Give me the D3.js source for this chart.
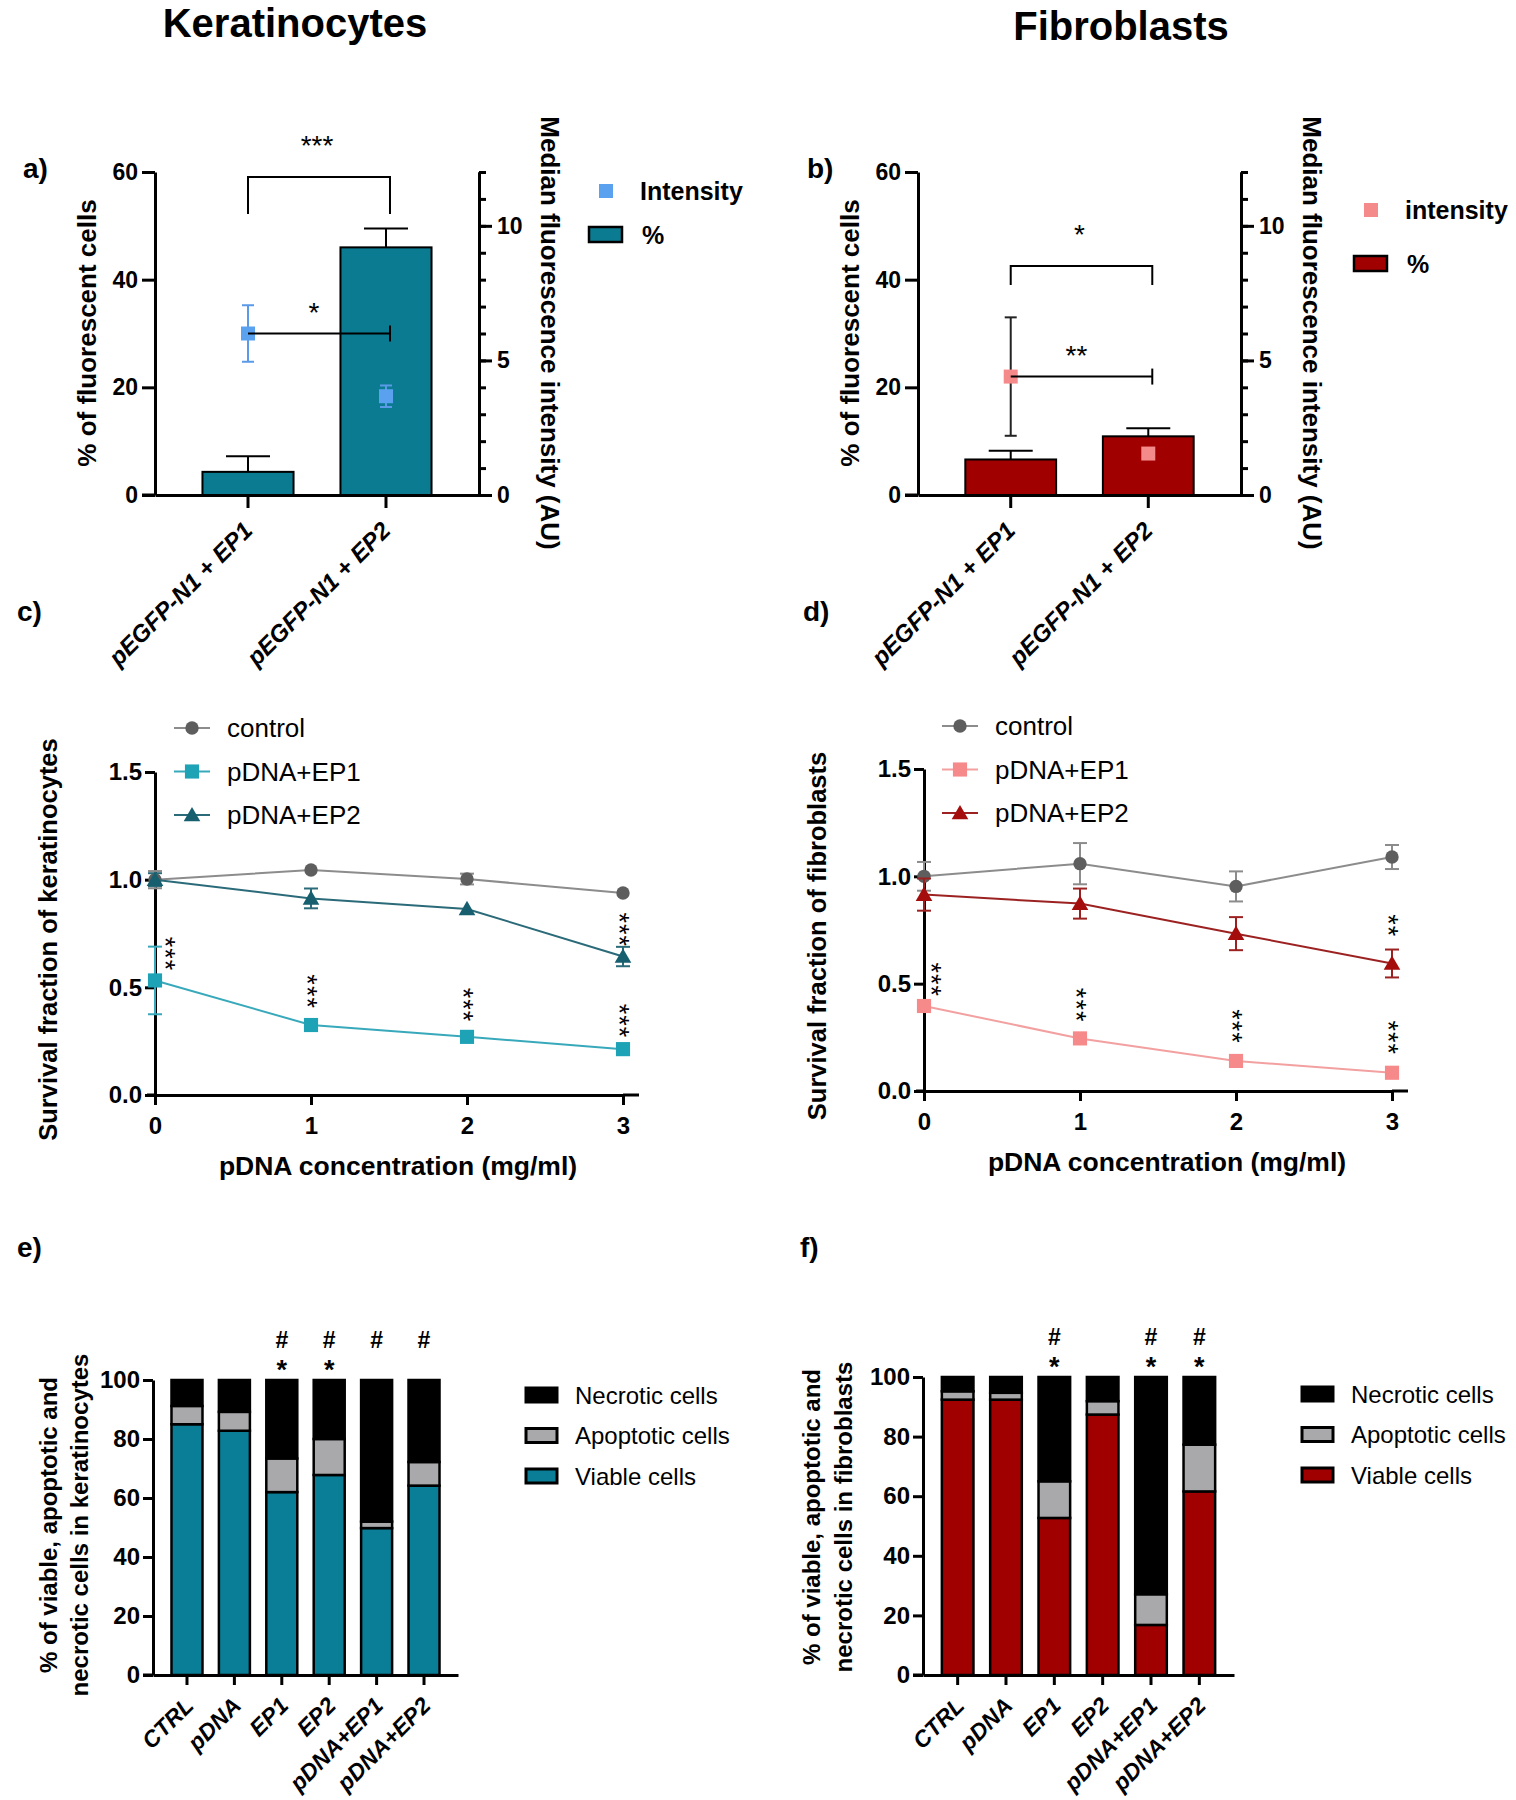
<!DOCTYPE html>
<html><head><meta charset="utf-8">
<script src="https://cdn.jsdelivr.net/npm/d3@7"></script>
<style>
body{margin:0;background:#fff}
text{font-family:"Liberation Sans",Arial,sans-serif}
</style></head><body>
<svg id="chart" width="1516" height="1800"></svg>
<script>
// ---------------- DATA ----------------
const barCats = ["pEGFP-N1 + EP1", "pEGFP-N1 + EP2"];
const pctTicks = [0, 20, 40, 60];
const intTicks = [0, 5, 10];
const intMinorTicks = [0,1,2,3,4,5,6,7,8,9,10,11,12];
const kerPct = [4.3, 46.0];
const kerPctSD = [2.9, 3.5];
const kerInt = [6.0, 3.67];
const kerIntSD = [1.05, 0.4];
const fibPct = [6.6, 10.9];
const fibPctSD = [1.6, 1.5];
const fibInt = [4.4, 1.54];
const fibIntSD = [2.2, 0];

const conc = [0, 1, 2, 3];
const survTicks = [0, 0.5, 1.0, 1.5];
const kerControl = [1.0, 1.045, 1.003, 0.938];
const kerControlSD = [0.04, 0.012, 0.025, 0.01];
const kerEP1 = [0.532, 0.325, 0.27, 0.213];
const kerEP1SD = [0.157, 0.01, 0.01, 0.01];
const kerEP2 = [1.0, 0.913, 0.864, 0.643];
const kerEP2SD = [0.03, 0.046, 0.01, 0.045];
const fibControl = [1.0, 1.059, 0.953, 1.09];
const fibControlSD = [0.067, 0.096, 0.07, 0.056];
const fibEP1 = [0.396, 0.245, 0.14, 0.085];
const fibEP1SD = [0.01, 0.01, 0.01, 0.01];
const fibEP2 = [0.915, 0.873, 0.733, 0.594];
const fibEP2SD = [0.075, 0.07, 0.077, 0.065];
const kerStars = [{x:0.09,y:0.655,t:"***"},{x:1,y:0.48,t:"***"},{x:2,y:0.418,t:"***"},{x:3,y:0.344,t:"***"},{x:3,y:0.767,t:"***"}];
const fibStars = [{x:0.07,y:0.518,t:"***"},{x:1,y:0.40,t:"***"},{x:2,y:0.30,t:"***"},{x:3,y:0.248,t:"***"},{x:3,y:0.77,t:"**"}];

const groups = ["CTRL", "pDNA", "EP1", "EP2", "pDNA+EP1", "pDNA+EP2"];
const stackTicks = [0, 20, 40, 60, 80, 100];
const kerViable    = [85.0, 82.8, 62.0, 67.8, 49.8, 64.2];
const kerApoptotic = [6.2, 6.4, 11.4, 12.2, 2.2, 8.0];
const kerNecrotic  = [8.8, 10.8, 26.6, 20.0, 48.0, 27.8];
const fibViable    = [92.4, 92.4, 52.7, 87.4, 16.8, 61.6];
const fibApoptotic = [2.8, 2.3, 12.3, 4.5, 10.3, 15.7];
const fibNecrotic  = [4.8, 5.3, 35.0, 8.1, 72.9, 22.7];
const kerMarks = [[], [], ["#", "*"], ["#", "*"], ["#"], ["#"]];
const fibMarks = [[], [], ["#", "*"], [], ["#", "*"], ["#", "*"]];

// ---------------- HELPERS ----------------
const svg = d3.select("#chart");
svg.append("rect").attr("width",1516).attr("height",1800).attr("fill","#fff");
const FONT = '"Liberation Sans", Arial, sans-serif';

function txt(g, x, y, s, o = {}) {
  const t = g.append("text").attr("x", x).attr("y", y).text(s)
    .attr("font-size", o.size || 22).attr("font-weight", o.weight || "bold")
    .attr("text-anchor", o.anchor || "start").attr("fill", o.fill || "#000")
    .attr("font-family", FONT);
  if (o.style) t.attr("font-style", o.style);
  if (o.ls) t.attr("letter-spacing", o.ls);
  if (o.rotate != null) t.attr("transform", `rotate(${o.rotate},${x},${y})`);
  return t;
}
function styleAxis(sel, fs) {
  sel.attr("font-family", FONT).attr("font-size", fs || 23).attr("font-weight", "bold");
  sel.select(".domain").attr("stroke", "#000").attr("stroke-width", 3);
  sel.selectAll(".tick line").attr("stroke", "#000").attr("stroke-width", 3);
  sel.selectAll(".tick text").attr("fill", "#000");
}
function vline(g, x, y1, y2, c, w) { g.append("line").attr("x1",x).attr("x2",x).attr("y1",y1).attr("y2",y2).attr("stroke",c).attr("stroke-width",w||2); }
function hline(g, x1, x2, y, c, w) { g.append("line").attr("x1",x1).attr("x2",x2).attr("y1",y).attr("y2",y).attr("stroke",c).attr("stroke-width",w||2); }

// ---------------- TITLES ----------------
txt(svg, 295, 37, "Keratinocytes", {size: 40, anchor: "middle"});
txt(svg, 1121, 40, "Fibroblasts", {size: 40, anchor: "middle"});
[["a)",23,178],["b)",807,178],["c)",17,621],["d)",803,621],["e)",17,1257],["f)",800,1257]]
  .forEach(p => txt(svg, p[1], p[2], p[0], {size: 28}));

// ---------------- BAR PANELS (a, b) ----------------
function barPanel(o) {
  const g = svg.append("g");
  const Y0 = 495, Y1 = 172;
  const x = d3.scaleBand().domain(barCats).range([o.x0, o.x1]).paddingInner(0.34).paddingOuter(0.344);
  const y = d3.scaleLinear().domain([0, 60]).range([Y0, Y1]);
  const y2 = d3.scaleLinear().domain([0, 12]).range([Y0, Y1]);
  const cx = c => x(c) + x.bandwidth() / 2;

  g.selectAll("rect.bar").data(barCats).join("rect")
    .attr("x", c => x(c)).attr("y", (c, i) => y(o.pct[i]))
    .attr("width", x.bandwidth()).attr("height", (c, i) => y(0) - y(o.pct[i]))
    .attr("fill", o.color).attr("stroke", "#000").attr("stroke-width", 2);
  barCats.forEach((c, i) => {
    const top = y(o.pct[i] + o.pctSD[i]);
    vline(g, cx(c), y(o.pct[i]), top, "#000", 2);
    hline(g, cx(c) - 22, cx(c) + 22, top, "#000", 2);
  });

  // axes
  g.append("g").attr("transform", `translate(${o.x0},0)`)
    .call(d3.axisLeft(y).tickValues(pctTicks).tickSize(13).tickPadding(4).tickSizeOuter(0)).call(styleAxis);
  g.append("g").attr("transform", `translate(${o.x1},0)`)
    .call(d3.axisRight(y2).tickValues(intMinorTicks).tickSize(7).tickFormat("").tickSizeOuter(0)).call(styleAxis);
  g.append("g").attr("transform", `translate(${o.x1},0)`)
    .call(d3.axisRight(y2).tickValues(intTicks).tickSize(13).tickPadding(5).tickSizeOuter(0)).call(styleAxis);
  g.append("g").attr("transform", `translate(0,${Y0})`)
    .call(d3.axisBottom(x).tickSize(13).tickFormat("").tickSizeOuter(0)).call(styleAxis);
  hline(g, o.x0 - 13, o.x0, Y0, "#000", 3);
  barCats.forEach(c => {
    const px = cx(c) + 6, py = Y0 + 37;
    g.append("text").attr("transform", `translate(${px},${py}) rotate(-45)`)
      .attr("text-anchor", "end").attr("font-size", 24).attr("font-weight", "bold")
      .attr("font-style", "italic").attr("font-family", FONT).text(c);
  });

  // intensity points
  barCats.forEach((c, i) => {
    const py = y2(o.int[i]);
    if (o.intSD[i] > 0) {
      const t = y2(o.int[i] + o.intSD[i]), b = y2(o.int[i] - o.intSD[i]);
      vline(g, cx(c), t, b, o.intErr, 2);
      hline(g, cx(c) - 6, cx(c) + 6, t, o.intErr, 2);
      hline(g, cx(c) - 6, cx(c) + 6, b, o.intErr, 2);
    }
    g.append("rect").attr("x", cx(c) - 7).attr("y", py - 7).attr("width", 14).attr("height", 14).attr("fill", o.intColor);
  });

  // significance brackets
  const c1 = cx(barCats[0]), c2 = cx(barCats[1]);
  g.append("path").attr("d", `M${c1},${o.brTop + o.brLeg}V${o.brTop}H${c2 + 4}V${o.brTop + o.brLeg}`)
    .attr("fill", "none").attr("stroke", "#000").attr("stroke-width", 2);
  txt(g, (c1 + c2) / 2, o.brTop - 22, o.brLabel, {size: 28, anchor: "middle", weight: "normal"});
  const ly = y2(o.int[0]);
  hline(g, c1, c2 + 4, ly, "#000", 2);
  vline(g, c2 + 4, ly - 8, ly + 8, "#000", 2);
  txt(g, (c1 + c2) / 2 - 3, ly - 12, o.lnLabel, {size: 28, anchor: "middle", weight: "normal"});

  // axis titles
  txt(g, o.x0 - 59, 333, "% of fluorescent cells", {size: 26, anchor: "middle", rotate: -90});
  txt(g, o.x1 + 62, 333, "Median fluorescence intensity (AU)", {size: 26, anchor: "middle", rotate: 90});

  // legend
  g.append("rect").attr("x", o.lx + 10).attr("y", o.ly - 7).attr("width", 14).attr("height", 14).attr("fill", o.intColor);
  txt(g, o.lx + 51, o.ly + 9, o.intName, {size: 25});
  g.append("rect").attr("x", o.lx).attr("y", o.ly + o.gap - 7).attr("width", 33).attr("height", 15)
    .attr("fill", o.color).attr("stroke", "#000").attr("stroke-width", 2.5);
  txt(g, o.lx + 53, o.ly + o.gap + 10, "%", {size: 25});
}

barPanel({x0: 155, x1: 479, pct: kerPct, pctSD: kerPctSD, int: kerInt, intSD: kerIntSD,
  color: "#0b7b91", intColor: "#5aa2f0", intErr: "#5a9ae8", brTop: 177, brLeg: 37, brLabel: "***", lnLabel: "*",
  lx: 589, ly: 191, gap: 43, intName: "Intensity"});
barPanel({x0: 918, x1: 1241, pct: fibPct, pctSD: fibPctSD, int: fibInt, intSD: fibIntSD,
  color: "#a00000", intColor: "#f58a8a", intErr: "#222", brTop: 266, brLeg: 19, brLabel: "*", lnLabel: "**",
  lx: 1354, ly: 210, gap: 53, intName: "intensity"});

// ---------------- LINE PANELS (c, d) ----------------
function linePanel(o) {
  const g = svg.append("g");
  const x = d3.scaleLinear().domain([0, 3]).range([o.x0, o.x3]);
  const y = d3.scaleLinear().domain([0, 1.5]).range([o.y0, o.y15]);
  g.append("g").attr("transform", `translate(${o.x0},0)`)
    .call(d3.axisLeft(y).tickValues(survTicks).tickSize(10).tickPadding(3).tickFormat(d3.format(".1f")).tickSizeOuter(0)).call(styleAxis, 24);
  g.append("g").attr("transform", `translate(0,${o.y0})`)
    .call(d3.axisBottom(x).tickValues(conc).tickSize(10).tickPadding(12).tickFormat(d3.format("d")).tickSizeOuter(0)).call(styleAxis, 24);
  hline(g, o.x0 - 8, o.x0, o.y0, "#000", 3);
  hline(g, o.x3, o.x3 + 16, o.y0, "#000", 3);

  const line = d3.line().x((d, i) => x(conc[i])).y(d => y(d));
  o.series.forEach(s => {
    g.append("path").attr("d", line(s.v)).attr("fill", "none").attr("stroke", s.line).attr("stroke-width", 2);
    s.v.forEach((v, i) => {
      if (s.sd[i] > 0.015) {
        const t = y(v + s.sd[i]), b = y(v - s.sd[i]), px = x(conc[i]);
        vline(g, px, t, b, s.err, 2);
        hline(g, px - 7, px + 7, t, s.err, 2);
        hline(g, px - 7, px + 7, b, s.err, 2);
      }
    });
    g.selectAll(null).data(s.v).join("path")
      .attr("transform", (d, i) => `translate(${x(conc[i])},${y(d) + (s.sym === d3.symbolTriangle ? 1.5 : 0)})`)
      .attr("d", d3.symbol().type(s.sym).size(s.size)).attr("fill", s.color);
  });
  o.stars.forEach(st => {
    const px = x(st.x) - 13, py = y(st.y);
    g.append("text").attr("transform", `translate(${px},${py}) rotate(90)`).attr("text-anchor", "middle")
      .attr("font-size", 27).attr("letter-spacing", 1).attr("font-family", FONT).text(st.t);
  });
  // legend
  o.series.forEach((s, i) => {
    const ly = o.ly + i * 43.5;
    hline(g, o.lx - 18, o.lx + 18, ly, s.line, 2);
    g.append("path").attr("transform", `translate(${o.lx},${ly + (s.sym === d3.symbolTriangle ? 1.5 : 0)})`)
      .attr("d", d3.symbol().type(s.sym).size(s.size)).attr("fill", s.color);
    txt(g, o.lx + 35, ly + 9, s.name, {size: 26, weight: "normal"});
  });
  txt(g, (o.x0 + o.x3) / 2 + 9, o.y0 + 80, "pDNA concentration (mg/ml)", {size: 26.5, anchor: "middle"});
  txt(g, o.ytx, (o.y0 + o.y15) / 2 + 6, o.ytitle, {size: 25.5, anchor: "middle", rotate: -90});
}

linePanel({x0: 155, x3: 623, y0: 1095, y15: 772, lx: 192, ly: 728, ytx: 57,
  ytitle: "Survival fraction of keratinocytes", stars: kerStars,
  series: [
    {name: "control", v: kerControl, sd: kerControlSD, color: "#5e5e5e", line: "#8c8c8c", err: "#8c8c8c", sym: d3.symbolCircle, size: 140},
    {name: "pDNA+EP1", v: kerEP1, sd: kerEP1SD, color: "#1ea2b6", line: "#38a9bb", err: "#38a9bb", sym: d3.symbolSquare, size: 200},
    {name: "pDNA+EP2", v: kerEP2, sd: kerEP2SD, color: "#175f6f", line: "#2b6b79", err: "#2b6b79", sym: d3.symbolTriangle, size: 120}
  ]});
linePanel({x0: 924, x3: 1392, y0: 1091, y15: 769, lx: 960, ly: 726, ytx: 826,
  ytitle: "Survival fraction of fibroblasts", stars: fibStars,
  series: [
    {name: "control", v: fibControl, sd: fibControlSD, color: "#5e5e5e", line: "#8c8c8c", err: "#8c8c8c", sym: d3.symbolCircle, size: 140},
    {name: "pDNA+EP1", v: fibEP1, sd: fibEP1SD, color: "#f68a8a", line: "#f3a0a0", err: "#f3a0a0", sym: d3.symbolSquare, size: 200},
    {name: "pDNA+EP2", v: fibEP2, sd: fibEP2SD, color: "#a50d0d", line: "#9c2222", err: "#9c2222", sym: d3.symbolTriangle, size: 120}
  ]});

// ---------------- STACKED PANELS (e, f) ----------------
function stackPanel(o) {
  const g = svg.append("g");
  const Y0 = 1675;
  const x = d3.scaleBand().domain(groups).range([o.x0, o.x1]).paddingInner(0.346).paddingOuter(0.39);
  const y = d3.scaleLinear().domain([0, 100]).range([Y0, o.y100]);
  const rows = groups.map((gname, i) => ({g: gname, viable: o.v[i], apoptotic: o.a[i], necrotic: o.n[i]}));
  const keys = ["viable", "apoptotic", "necrotic"];
  const fills = {viable: o.color, apoptotic: "#a9a9ab", necrotic: "#000"};
  const stacked = d3.stack().keys(keys)(rows);
  stacked.forEach(layer => {
    g.selectAll(null).data(layer).join("rect")
      .attr("x", d => x(d.data.g)).attr("y", d => y(d[1]))
      .attr("width", x.bandwidth()).attr("height", d => y(d[0]) - y(d[1]))
      .attr("fill", fills[layer.key]).attr("stroke", "#000").attr("stroke-width", 2.5);
  });
  g.append("g").attr("transform", `translate(${o.x0},0)`)
    .call(d3.axisLeft(y).tickValues(stackTicks).tickSize(10).tickPadding(3).tickSizeOuter(0)).call(styleAxis, 24);
  g.append("g").attr("transform", `translate(0,${Y0})`)
    .call(d3.axisBottom(x).tickSize(10).tickFormat("").tickSizeOuter(0)).call(styleAxis);
  hline(g, o.x0 - 10, o.x0, Y0, "#000", 3);
  groups.forEach(c => {
    const px = x(c) + x.bandwidth() / 2 + 8, py = Y0 + 32;
    g.append("text").attr("transform", `translate(${px},${py}) rotate(-45)`)
      .attr("text-anchor", "end").attr("font-size", 23).attr("font-weight", "bold")
      .attr("font-style", "italic").attr("font-family", FONT).text(c);
  });
  o.marks.forEach((m, i) => {
    const cx = x(groups[i]) + x.bandwidth() / 2;
    m.forEach((s, k) => {
      if (s === "#") txt(g, cx, o.markY, s, {size: 23, anchor: "middle"});
      else txt(g, cx, o.markY + 31, s, {size: 27, anchor: "middle"});
    });
  });
  // y title
  txt(g, o.yt1, o.ytc, "% of viable, apoptotic and", {size: 24, anchor: "middle", rotate: -90});
  txt(g, o.yt2, o.ytc, o.yline2, {size: 24, anchor: "middle", rotate: -90});
  // legend
  [["Necrotic cells", "#000"], ["Apoptotic cells", "#a9a9ab"], ["Viable cells", o.color]].forEach((l, i) => {
    const ly = o.ly + i * 40.5;
    g.append("rect").attr("x", o.lx).attr("y", ly - 7).attr("width", 31).attr("height", 14)
      .attr("fill", l[1]).attr("stroke", "#000").attr("stroke-width", 3);
    txt(g, o.lx + 49, ly + 8.5, l[0], {size: 24, weight: "normal"});
  });
}

stackPanel({x0: 153, x1: 458, y100: 1380, v: kerViable, a: kerApoptotic, n: kerNecrotic, color: "#0a7e97",
  marks: kerMarks, markY: 1348, yt1: 57, yt2: 88, ytc: 1525, yline2: "necrotic cells in keratinocytes",
  lx: 526, ly: 1395});
stackPanel({x0: 923, x1: 1234, y100: 1377, v: fibViable, a: fibApoptotic, n: fibNecrotic, color: "#a00000",
  marks: fibMarks, markY: 1345, yt1: 820, yt2: 852, ytc: 1517, yline2: "necrotic cells in fibroblasts",
  lx: 1302, ly: 1394});
</script></body></html>
